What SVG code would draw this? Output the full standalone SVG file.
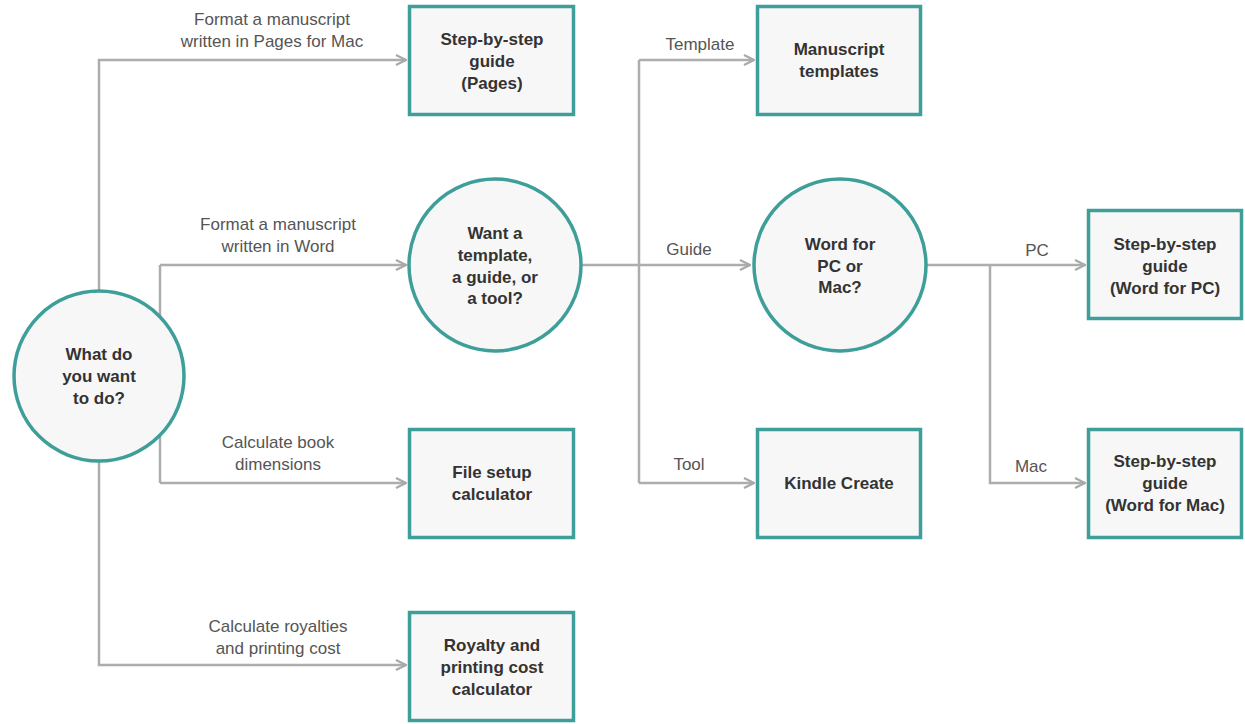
<svg xmlns="http://www.w3.org/2000/svg" width="1245" height="724" viewBox="0 0 1245 724">
<defs>
<marker id="arr" viewBox="0 0 12 12" refX="11" refY="6" markerWidth="12" markerHeight="12" markerUnits="userSpaceOnUse" orient="auto">
<polyline points="1,1 11,6 1,11" fill="none" stroke="#a9a9a9" stroke-width="2.2"/>
</marker>
</defs>
<style>
.bg{fill:#ffffff}
.c{fill:none;stroke:#adadad;stroke-width:2.5}
.a{marker-end:url(#arr)}
.box{fill:#f7f7f7;stroke:#3e9e99;stroke-width:3.5}
.circ{fill:#f7f7f7;stroke:#3e9e99;stroke-width:3.5}
.t{font-family:"Liberation Sans",Arial,sans-serif;font-size:17px;font-weight:bold;fill:#333333;text-anchor:middle}
.l{font-family:"Liberation Sans",Arial,sans-serif;font-size:17px;fill:#555555;text-anchor:middle}
</style>
<rect class="bg" x="0" y="0" width="1245" height="724"/>
<g id="connectors">
<path class="c a" d="M99,290 V60 H406"/>
<path class="c" d="M160,265 V483"/>
<path class="c a" d="M160,265 H406"/>
<path class="c a" d="M160,483 H406"/>
<path class="c a" d="M99,462 V665 H406"/>
<path class="c a" d="M582,265 H750"/>
<path class="c" d="M639,60 V483"/>
<path class="c a" d="M639,60 H754"/>
<path class="c a" d="M639,483 H754"/>
<path class="c a" d="M927,265 H1085"/>
<path class="c a" d="M990,265 V483 H1085"/>
</g>
<g id="edge-labels">
<text class="l" x="272" y="25">Format a manuscript</text>
<text class="l" x="272" y="47">written in Pages for Mac</text>
<text class="l" x="278" y="230">Format a manuscript</text>
<text class="l" x="278" y="252">written in Word</text>
<text class="l" x="278" y="448">Calculate book</text>
<text class="l" x="278" y="470">dimensions</text>
<text class="l" x="278" y="632">Calculate royalties</text>
<text class="l" x="278" y="654">and printing cost</text>
<text class="l" x="700" y="50">Template</text>
<text class="l" x="689" y="255">Guide</text>
<text class="l" x="689" y="470">Tool</text>
<text class="l" x="1037" y="256">PC</text>
<text class="l" x="1031" y="472">Mac</text>
</g>
<g id="start">
<circle class="circ" cx="99" cy="376" r="85"/>
<text class="t" x="99" y="360">What do</text>
<text class="t" x="99" y="382">you want</text>
<text class="t" x="99" y="404">to do?</text>
</g>
<g id="pages-guide">
<rect class="box" x="409.5" y="6.5" width="164" height="108"/>
<text class="t" x="492" y="45">Step-by-step</text>
<text class="t" x="492" y="67">guide</text>
<text class="t" x="492" y="89">(Pages)</text>
</g>
<g id="template-choice">
<circle class="circ" cx="495" cy="265" r="86"/>
<text class="t" x="495" y="239">Want a</text>
<text class="t" x="495" y="261">template,</text>
<text class="t" x="495" y="283">a guide, or</text>
<text class="t" x="495" y="304">a tool?</text>
</g>
<g id="file-setup">
<rect class="box" x="409.5" y="429.5" width="164" height="108"/>
<text class="t" x="492" y="478">File setup</text>
<text class="t" x="492" y="500">calculator</text>
</g>
<g id="royalty">
<rect class="box" x="409.5" y="612.5" width="164" height="108"/>
<text class="t" x="492" y="651">Royalty and</text>
<text class="t" x="492" y="673">printing cost</text>
<text class="t" x="492" y="695">calculator</text>
</g>
<g id="manuscript-templates">
<rect class="box" x="757.5" y="6.5" width="163" height="108"/>
<text class="t" x="839" y="55">Manuscript</text>
<text class="t" x="839" y="77">templates</text>
</g>
<g id="word-choice">
<circle class="circ" cx="840" cy="265" r="86"/>
<text class="t" x="840" y="250">Word for</text>
<text class="t" x="840" y="272">PC or</text>
<text class="t" x="840" y="293">Mac?</text>
</g>
<g id="kindle-create">
<rect class="box" x="757.5" y="429.5" width="163" height="108"/>
<text class="t" x="839" y="489">Kindle Create</text>
</g>
<g id="word-pc-guide">
<rect class="box" x="1088.5" y="210.5" width="153" height="108"/>
<text class="t" x="1165" y="250">Step-by-step</text>
<text class="t" x="1165" y="272">guide</text>
<text class="t" x="1165" y="294">(Word for PC)</text>
</g>
<g id="word-mac-guide">
<rect class="box" x="1088.5" y="429.5" width="153" height="108"/>
<text class="t" x="1165" y="467">Step-by-step</text>
<text class="t" x="1165" y="489">guide</text>
<text class="t" x="1165" y="511">(Word for Mac)</text>
</g>
</svg>
